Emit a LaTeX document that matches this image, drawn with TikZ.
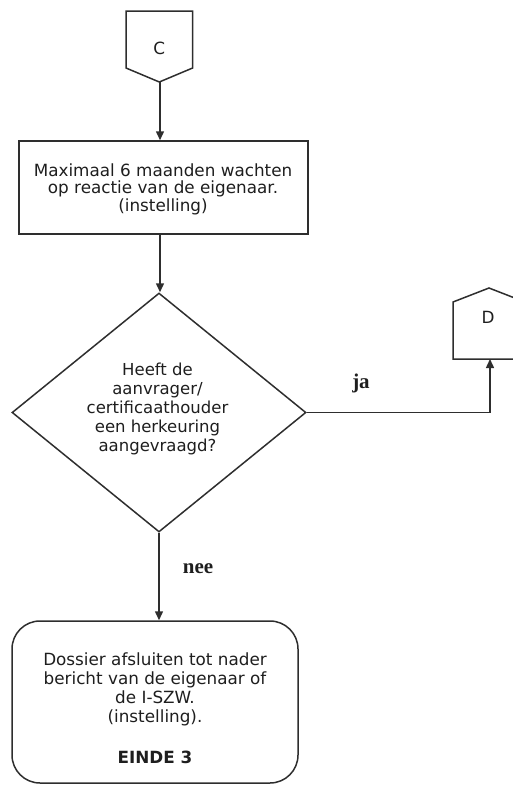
\documentclass[tikz,border=0pt]{standalone}
\usepackage{fontspec}
\setmainfont{DejaVu Sans}
\newfontfamily\lblfont{Liberation Serif}
\usetikzlibrary{shapes.geometric,arrows.meta}
\definecolor{linecol}{HTML}{2E2E2E}
\definecolor{txtcol}{HTML}{1E1E1E}
\begin{document}
\begin{tikzpicture}[x=1pt,y=-1pt,
  line/.style={draw=linecol, line width=1.5pt},
  arr/.style={line, -{Triangle[length=9pt,width=8pt]}},
  shapebox/.style={line, rectangle, inner sep=0pt},
  txt/.style={align=center, font=\fontsize{16.8}{17.5}\selectfont, inner sep=0pt, text=txtcol},
  lbl/.style={font=\lblfont\bfseries\fontsize{21}{23}\selectfont, inner sep=0pt, text=txtcol, anchor=base}]
\useasboundingbox (0,0) rectangle (512,785);
% off-page connector C
\draw[line, line join=miter] (126,11) -- (192.6,11) -- (192.6,68) -- (159.3,82) -- (126,68) -- cycle;
\node[txt] (C) at (159.3,48) {C};
\coordinate (Ctip) at (160,82);
% box 1
\node[shapebox, minimum width=289pt, minimum height=93pt] (b1) at (163.5,187.5) {};
\node[txt] (b1text) at (163,189.2) {Maximaal 6 maanden wachten\\op reactie van de eigenaar.\\(instelling)};
% decision
\node[line, diamond, inner sep=0pt, minimum width=294pt, minimum height=239pt] (dia) at (159,412.5) {};
\node[txt, font=\fontsize{16.5}{19}\selectfont] (diatext) at (157.5,408.7) {Heeft de\\aanvrager/\\certificaathouder\\een herkeuring\\aangevraagd?};
% off-page connector D
\draw[line, line join=miter] (453,302) -- (489,288) -- (525,302) -- (525,359) -- (453,359) -- cycle;
\node[txt] (D) at (488,317.5) {D};
\coordinate (Dbot) at (490,359);
% end box
\node[shapebox, rounded corners=28pt, minimum width=286pt, minimum height=162pt] (endbox) at (155,702) {};
\node[txt, font=\fontsize{16.8}{19}\selectfont] (endtext) at (155,707.8) {Dossier afsluiten tot nader\\bericht van de eigenaar of\\de I-SZW.\\(instelling).\\[22pt]\textbf{EINDE 3}};
% connectors
\draw[arr] (Ctip) -- (Ctip |- b1.north);
\draw[arr] (b1.south -| Ctip) -- (Ctip |- dia.north);
\draw[arr] (dia.east) -| (Dbot);
\draw[arr] (dia.south) -- (dia.south |- endbox.north);
% labels
\node[lbl] (ja) at (361,388) {ja};
\node[lbl] (nee) at (198,573) {nee};
\end{tikzpicture}
\end{document}
